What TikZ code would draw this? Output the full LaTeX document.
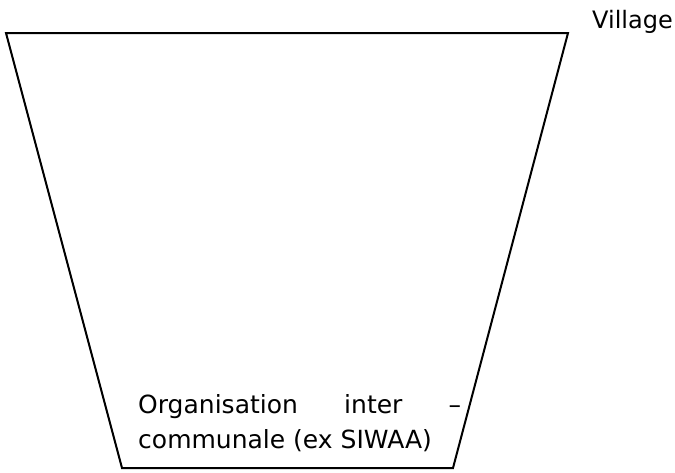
\documentclass[tikz,border=0pt]{standalone}
\usepackage{fontspec}
\setmainfont{DejaVu Sans}
\begin{document}
\begin{tikzpicture}[x=1pt,y=-1pt]
            \useasboundingbox (0,0) rectangle (675,472);
            \coordinate (TL) at (6, 33);
            \coordinate (TR) at (568, 33);
            \coordinate (BR) at (453, 468);
            \coordinate (BL) at (122, 468);

            \draw[line width=2pt,line join=miter] (TL) -- (TR) -- (BR) -- (BL) -- cycle;
            \node[anchor=base west,inner sep=0pt,font=\fontsize{24}{35}\selectfont] (village) at (592, 28) { Village };
            \node[anchor=base west,inner sep=0pt,text width=323pt,align=justify,font=\fontsize{25}{35}\selectfont] (orga) at (138, 413) { Organisation inter –\linebreak communale (ex SIWAA) };
        \end{tikzpicture}
\end{document}
